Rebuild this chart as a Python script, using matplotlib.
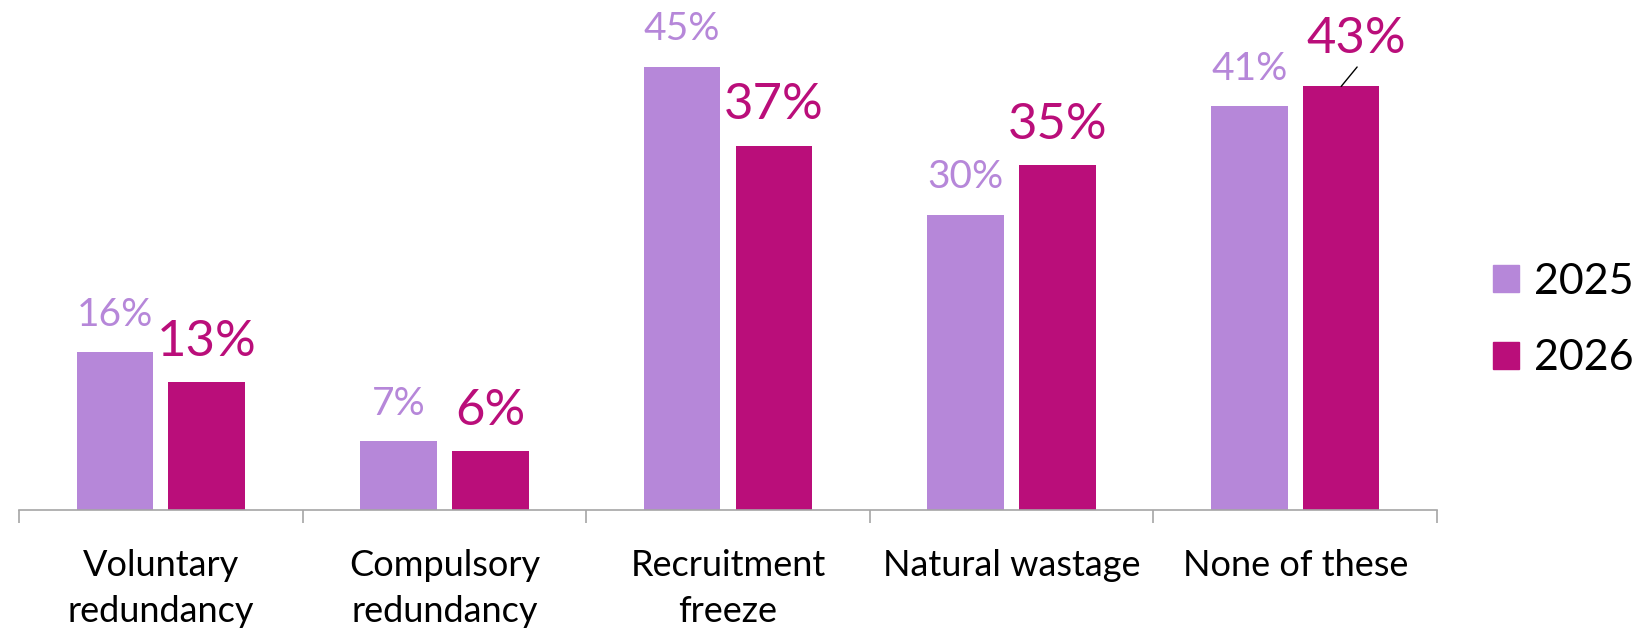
import matplotlib
matplotlib.use("Agg")
import matplotlib.pyplot as plt
from matplotlib.patches import Patch
import numpy as np

categories = ["Voluntary\nredundancy", "Compulsory\nredundancy", "Recruitment\nfreeze",
              "Natural wastage", "None of these"]
series_names = ["2025", "2026"]
values_2025 = [16, 7, 45, 30, 41]
values_2026 = [13, 6, 37, 35, 43]

c2025 = "#B687D9"
c2026 = "#BA0E7A"

plt.rcParams['font.family'] = ['Lato', 'DejaVu Sans']

W, H = 1648, 630
fig = plt.figure(figsize=(W / 100, H / 100), dpi=100)
ax_left, ax_right = 19, 1437
ax_base = 510
ymax = 50
px_per = 9.85
ax_top = ax_base - ymax * px_per
ax = fig.add_axes([ax_left / W, (H - ax_base) / H, (ax_right - ax_left) / W, (ax_base - ax_top) / H])

x = np.arange(len(categories))
bw = 0.27
off = 0.162
ax.bar(x - off, values_2025, bw, color=c2025, label=series_names[0])
ax.bar(x + off, values_2026, bw, color=c2026, label=series_names[1])

ax.set_xlim(-0.5, len(categories) - 0.5)
ax.set_ylim(0, ymax)
for s in ["top", "right", "left"]:
    ax.spines[s].set_visible(False)
ax.spines["bottom"].set_color("#A6A6A6")
ax.spines["bottom"].set_linewidth(1.2)
ax.set_yticks([])
ax.set_xticks(x)
ax.set_xticklabels(categories, fontsize=26, color="black", linespacing=1.5)
ax.tick_params(axis="x", which="major", length=0, pad=28)
ax.set_xticks(np.arange(len(categories) + 1) - 0.5, minor=True)
ax.tick_params(axis="x", which="minor", length=9, color="#A6A6A6", width=1.2)

for xi, v in zip(x, values_2025):
    ax.annotate(f"{v}%", (xi - off, v), xytext=(0, 19), textcoords="offset points",
                ha="center", va="baseline", fontsize=28, color=c2025)
for i, (xi, v) in enumerate(zip(x, values_2026)):
    if i == len(categories) - 1:
        ax.annotate(f"{v}%", (xi + off, v), xytext=(11, 24), textcoords="offset points",
                    ha="center", va="baseline", fontsize=36.5, color=c2026)
        ax.annotate("", (xi + off, v), xytext=(11.5, 14), textcoords="offset points",
                    arrowprops=dict(arrowstyle="-", color="black", lw=1, shrinkA=0, shrinkB=0))
    else:
        ax.annotate(f"{v}%", (xi + off, v), xytext=(0, 19), textcoords="offset points",
                    ha="center", va="baseline", fontsize=36.5, color=c2026)

handles = [Patch(color=c2025), Patch(color=c2026)]
fig.legend(handles, series_names, loc="center left", bbox_to_anchor=(1476 / W, 1 - 320 / H),
           frameon=False, fontsize=31, handlelength=0.6, handleheight=0.6,
           handletextpad=0.35, labelspacing=0.9, borderaxespad=0)

fig.savefig("out.png", dpi=100)
